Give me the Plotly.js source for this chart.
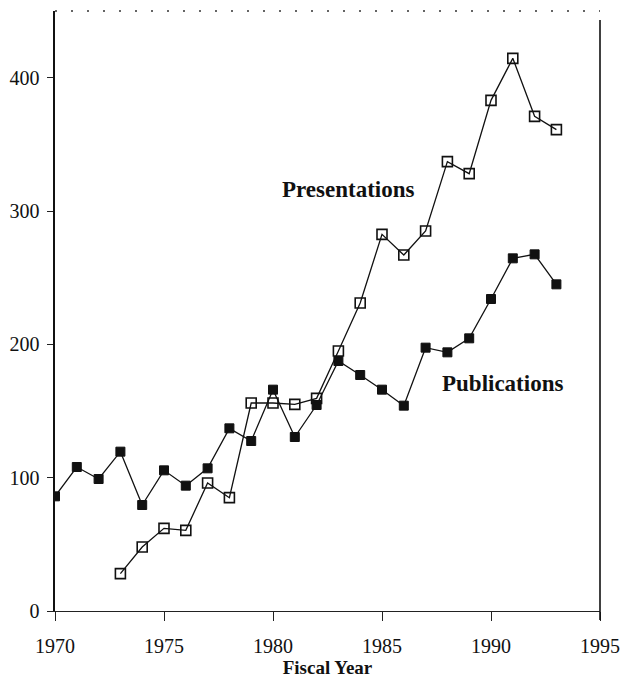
<!DOCTYPE html>
<html>
<head>
<meta charset="utf-8">
<script src="https://cdn.plot.ly/plotly-3.0.1.min.js"></script>
<style>html,body{margin:0;padding:0;background:#fff;}#chart{width:630px;height:681px;}</style>
</head>
<body>
<div id="chart"></div>
<script>
const pubYears = [1970,1971,1972,1973,1974,1975,1976,1977,1978,1979,1980,1981,1982,1983,1984,1985,1986,1987,1988,1989,1990,1991,1992,1993];
const publications = [86,108,99,119.5,79.5,105.5,94,107,137,127.5,166,130.5,154.5,187.5,177,166,154,197.5,194,204.5,234,264.5,267.5,245];
const presYears = [1973,1974,1975,1976,1977,1978,1979,1980,1981,1982,1983,1984,1985,1986,1987,1988,1989,1990,1991,1992,1993];
const presentations = [28,48,62,60.5,96,85,156,156,155,159.5,195,231,282.5,267,285,337,328,383,414.5,371,361];
const xTicks = [1970,1975,1980,1985,1990,1995];
const yTicks = [0,100,200,300,400];
const xTitle = "Fiscal Year";
const labelPres = "Presentations";
const labelPub = "Publications";

const serif = "Liberation Serif, Times New Roman, serif";

const traces = [
  {
    x: pubYears, y: publications, type: 'scatter', mode: 'lines+markers',
    name: labelPub,
    line: {color: '#111', width: 1.3},
    marker: {symbol: 'square', size: 9, color: '#111', line: {color: '#111', width: 1}}
  },
  {
    x: presYears, y: presentations, type: 'scatter', mode: 'lines+markers',
    name: labelPres,
    line: {color: '#111', width: 1.3},
    marker: {symbol: 'square-open', size: 10, color: '#111', line: {color: '#111', width: 1.6}}
  }
];

const layout = {
  width: 630, height: 681,
  margin: {l: 55, r: 30, t: 11, b: 70},
  paper_bgcolor: '#fff', plot_bgcolor: '#fff',
  showlegend: false,
  font: {family: serif, color: '#111', size: 20},
  xaxis: {
    range: [1970, 1995], tickvals: xTicks, ticktext: xTicks.map(String),
    showgrid: false, zeroline: false,
    showline: true, linecolor: '#222', linewidth: 1,
    ticks: 'outside', ticklen: 9, tickwidth: 1, tickcolor: '#222',
    tickfont: {family: serif, size: 20, color: '#111'},
    ticklabelstandoff: 8,
    title: {text: xTitle, font: {family: serif, size: 19, color: '#111', weight: 'bold'}, standoff: 3}
  },
  yaxis: {
    range: [0, 450], tickvals: yTicks, ticktext: yTicks.map(String),
    showgrid: false, zeroline: false,
    showline: true, linecolor: '#111', linewidth: 1.6,
    ticks: 'outside', ticklen: 6, tickwidth: 1, tickcolor: '#222',
    tickfont: {family: serif, size: 20, color: '#111'},
    ticklabelstandoff: 4
  },
  shapes: [
    {type: 'line', xref: 'paper', yref: 'paper', x0: 0, x1: 1, y0: 1, y1: 1,
     line: {color: '#333', width: 1.5, dash: '2px,14px'}},
    {type: 'line', xref: 'paper', yref: 'paper', x0: 1, x1: 1, y0: -0.015, y1: 0.985,
     line: {color: '#111', width: 1.6}}
  ],
  annotations: [
    {x: 1983.46, y: 316.5, xref: 'x', yref: 'y', text: labelPres, showarrow: false,
     xanchor: 'center', yanchor: 'middle',
     font: {family: serif, size: 23, color: '#111', weight: 'bold'}},
    {x: 1990.53, y: 171, xref: 'x', yref: 'y', text: labelPub, showarrow: false,
     xanchor: 'center', yanchor: 'middle',
     font: {family: serif, size: 23, color: '#111', weight: 'bold'}}
  ]
};

Plotly.newPlot('chart', traces, layout, {displayModeBar: false, staticPlot: true});
</script>
</body>
</html>
